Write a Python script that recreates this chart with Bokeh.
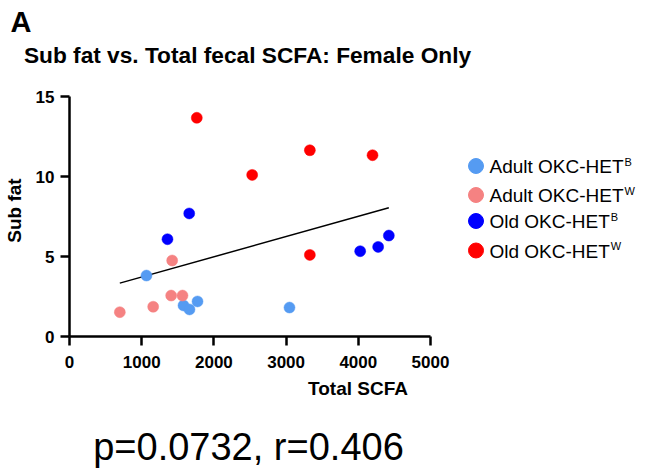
import numpy as np
from bokeh.plotting import figure
from bokeh.models import Range1d, FixedTicker, LinearAxis, Title
from bokeh.core.properties import value
from bokeh.embed import file_html
from bokeh.resources import INLINE

# ---------------- data ----------------
groups = ["Adult OKC-HET", "Adult OKC-HET", "Old OKC-HET", "Old OKC-HET"]
sups = ["B", "W", "B", "W"]
colors = ["#559BF2", "#F58282", "#0000FF", "#FF0000"]

adult_b_x = [1066, 1579, 1662, 1773, 3047]
adult_b_y = [3.81, 1.94, 1.69, 2.19, 1.81]
adult_w_x = [697, 1159, 1408, 1565, 1422]
adult_w_y = [1.52, 1.86, 2.56, 2.56, 4.75]
old_b_x = [1357, 1658, 4026, 4275, 4423]
old_b_y = [6.08, 7.69, 5.33, 5.60, 6.31]
old_w_x = [1763, 2530, 3329, 4197, 3329]
old_w_y = [13.67, 10.10, 11.64, 11.33, 5.10]

x_ticks = [0, 1000, 2000, 3000, 4000, 5000]
y_ticks = [0, 5, 10, 15]
title_text = "Sub fat vs. Total fecal SCFA: Female Only"
panel_letter = "A"
stats_text = "p=0.0732, r=0.406"
x_label = "Total SCFA"
y_label = "Sub fat"

# ---------------- layout helpers (pixels -> plot coords) ----------------
W, H = 646, 472
FL, FR = 69, 430      # pixel of x=0 and x=5000
FB, FT = 336, 96      # pixel of y=0 and y=15
FTOP = 84             # top of the plotting frame
XMAX, YMAX = x_ticks[-1], y_ticks[-1]

def dx(px):
    return (px - FL) * XMAX / (FR - FL)

def dy(py):
    return (FB - py) * YMAX / (FB - FT)

FONT = "Liberation Sans"

p = figure(width=W, height=H, output_backend="svg", toolbar_location=None,
           title=None,
           x_range=Range1d(0, dx(W)), y_range=Range1d(0, dy(FTOP)),
           min_border_left=FL, min_border_right=0, min_border_top=FTOP,
           min_border_bottom=H - FB)
p.outline_line_color = None
p.xgrid.visible = False
p.ygrid.visible = False
p.background_fill_color = "white"
p.border_fill_color = "white"
# a pixel-unit range used only to place the free texts
p.extra_x_ranges = {"px": Range1d(FL, W)}

for ax, ticks, lab in ((p.xaxis[0], x_ticks, x_label), (p.yaxis[0], y_ticks, y_label)):
    ax.ticker = FixedTicker(ticks=ticks, minor_ticks=[])
    ax.bounds = (ticks[0], ticks[-1])
    ax.axis_line_width = 2.5
    ax.axis_line_color = "black"
    ax.major_tick_line_width = 2.5
    ax.major_tick_line_color = "black"
    ax.major_tick_out = 9
    ax.major_tick_in = 0
    ax.minor_tick_out = 0
    ax.minor_tick_in = 0
    ax.major_label_text_font = FONT
    ax.major_label_text_font_style = "bold"
    ax.major_label_text_font_size = "17px"
    ax.major_label_text_color = "black"
    ax.axis_label = lab
    ax.axis_label_text_font = FONT
    ax.axis_label_text_font_style = "bold"
    ax.axis_label_text_font_size = "19px"
    ax.axis_label_text_color = "black"

p.xaxis.major_label_standoff = 10
p.xaxis.axis_label_standoff = 7
p.yaxis.major_label_standoff = 6
p.yaxis.axis_label_standoff = 8

# regression line from all points
all_x = np.array(adult_b_x + adult_w_x + old_b_x + old_w_x, dtype=float)
all_y = np.array(adult_b_y + adult_w_y + old_b_y + old_w_y, dtype=float)
slope, icpt = np.polyfit(all_x, all_y, 1)
lx = np.array([all_x.min(), all_x.max()])
p.line(lx, slope * lx + icpt, line_color="black", line_width=1.5)

series = [(adult_b_x, adult_b_y), (adult_w_x, adult_w_y), (old_b_x, old_b_y), (old_w_x, old_w_y)]
for (xs, ys), c in zip(series, colors):
    p.scatter(xs, ys, size=11, fill_color=c, line_color=c, line_width=0.5, marker="circle")

# ---------------- legend (drawn manually) ----------------
ARIAL_W = {"A": .667, "d": .556, "u": .556, "l": .222, "t": .278, " ": .278,
           "O": .778, "K": .667, "C": .722, "-": .333, "H": .722, "E": .667, "T": .611}
LEG_FS = 19
leg_baselines = [172, 201, 227, 256.5]
for g, s, c, b in zip(groups, sups, colors, leg_baselines):
    p.scatter([dx(475.5)], [dy(b - 6.5)], size=15, fill_color=c, line_color=c, marker="circle")
    p.text([dx(489)], [dy(b - 6)], text=[g], text_font=value(FONT),
           text_font_size=value(f"{LEG_FS}px"), text_baseline="alphabetic",
           text_align="left", text_color="black")
    wpx = sum(ARIAL_W.get(ch, .6) for ch in g) * LEG_FS
    p.text([dx(489 + wpx + 1)], [dy(b - 11)], text=[s], text_font=value(FONT),
           text_font_size=value("11px"), text_baseline="alphabetic",
           text_align="left", text_color="black")

# ---------------- free texts, drawn as the single tick label of a bare axis ----------------
def text_axis(label, center_px, size, style, standoff):
    return LinearAxis(x_range_name="px",
                      ticker=FixedTicker(ticks=[center_px], minor_ticks=[]),
                      major_label_overrides={center_px: label},
                      bounds=(center_px - 20, center_px + 20),
                      axis_line_color=None, major_tick_line_color=None,
                      major_tick_out=0, major_tick_in=0,
                      minor_tick_out=0, minor_tick_in=0,
                      major_label_standoff=standoff,
                      major_label_text_font=FONT, major_label_text_font_style=style,
                      major_label_text_font_size=size, major_label_text_color="black")

p.add_layout(text_axis(title_text, 247, "22.7px", "bold", 17), "above")
p.add_layout(Title(text=panel_letter, align="left", offset=10 - FL, standoff=2,
                   text_font=FONT, text_font_style="bold", text_font_size="29px",
                   text_color="black"), "above")
p.add_layout(text_axis(stats_text, 248, "38px", "normal", 24), "below")

open("out.html", "w").write(file_html(p, INLINE))
